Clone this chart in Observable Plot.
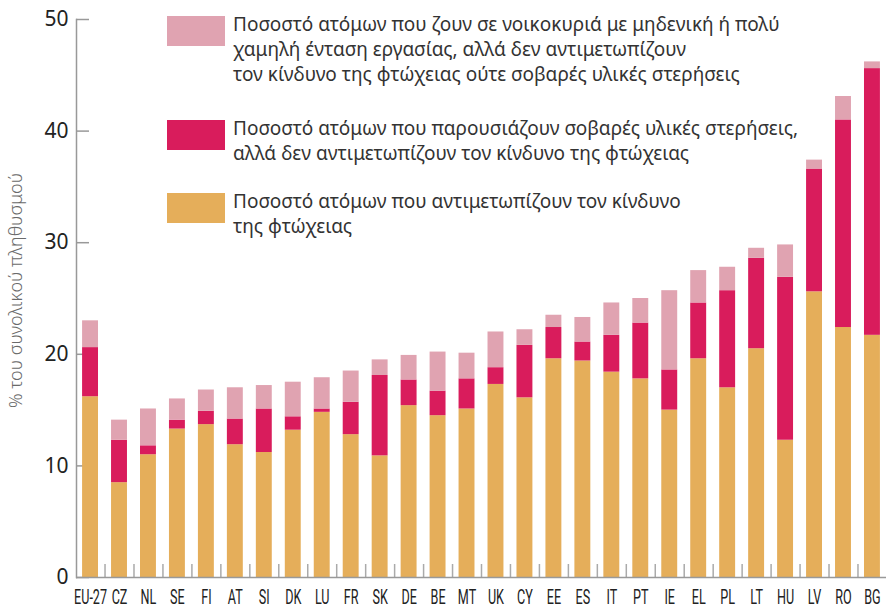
<!DOCTYPE html>
<html><head><meta charset="utf-8">
<script src="https://cdn.jsdelivr.net/npm/d3@7"></script>
<script src="https://cdn.jsdelivr.net/npm/@observablehq/plot@0.6"></script>
<style>
body{margin:0;background:#fff;}
#wrap{position:relative;width:888px;height:609px;overflow:hidden;}
.leg{position:absolute;left:167px;font-family:"Noto Sans",sans-serif;font-size:19px;color:#333;}
.sw{position:absolute;left:0;top:0;width:58px;height:30px;}
.tx{position:absolute;left:66px;top:-4px;line-height:25px;white-space:nowrap;}
</style></head>
<body><div id="wrap"></div>
<script>
const categories = ["EU-27","CZ","NL","SE","FI","AT","SI","DK","LU","FR","SK","DE","BE","MT","UK","CY","EE","ES","IT","PT","IE","EL","PL","LT","HU","LV","RO","BG"];
const poverty     = [16.2, 8.5,11.0,13.3,13.7,11.9,11.2,13.2,14.8,12.8,10.9,15.4,14.5,15.1,17.3,16.1,19.6,19.4,18.4,17.8,15.0,19.6,17.0,20.5,12.3,25.6,22.4,21.7];
const deprivation = [ 4.4, 3.8, 0.8, 0.8, 1.2, 2.3, 3.9, 1.2, 0.3, 2.9, 7.2, 2.3, 2.2, 2.7, 1.5, 4.7, 2.8, 1.7, 3.3, 5.0, 3.6, 5.0, 8.7, 8.1,14.6,11.0,18.6,23.9];
const lowWork     = [ 2.4, 1.8, 3.3, 1.9, 1.9, 2.8, 2.1, 3.1, 2.8, 2.8, 1.4, 2.2, 3.5, 2.3, 3.2, 1.4, 1.1, 2.2, 2.9, 2.2, 7.1, 2.9, 2.1, 0.9, 2.9, 0.8, 2.1, 0.6];
const seriesNames = ["Ποσοστό ατόμων που αντιμετωπίζουν τον κίνδυνο της φτώχειας",
  "Ποσοστό ατόμων που παρουσιάζουν σοβαρές υλικές στερήσεις, αλλά δεν αντιμετωπίζουν τον κίνδυνο της φτώχειας",
  "Ποσοστό ατόμων που ζουν σε νοικοκυριά με μηδενική ή πολύ χαμηλή ένταση εργασίας, αλλά δεν αντιμετωπίζουν τον κίνδυνο της φτώχειας ούτε σοβαρές υλικές στερήσεις"];
const legendLines = [
  ["Ποσοστό ατόμων που ζουν σε νοικοκυριά με μηδενική ή πολύ","χαμηλή ένταση εργασίας, αλλά δεν αντιμετωπίζουν","τον κίνδυνο της φτώχειας ούτε σοβαρές υλικές στερήσεις"],
  ["Ποσοστό ατόμων που παρουσιάζουν σοβαρές υλικές στερήσεις,","αλλά δεν αντιμετωπίζουν τον κίνδυνο της φτώχειας"],
  ["Ποσοστό ατόμων που αντιμετωπίζουν τον κίνδυνο","της φτώχειας"]
];
const colors = ["#e5ae5a","#d91c5c","#e0a3b1"];
const yTicks = [0,10,20,30,40,50];
const yLabel = "% του συνολικού πληθυσμού";

const series = [poverty, deprivation, lowWork];
const data = [];
categories.forEach((c,i) => series.forEach((s,k) => data.push({cat:c, series:seriesNames[k], value:s[i]})));

const W = 888, H = 609, mL = 76, mR = 2, mT = 19, mB = 32;
const pIn = 0.45, pOut = 0.21;
const step = (W - mL - mR) / (categories.length - pIn + 2*pOut);
const frameH = H - mT - mB, frameW = W - mL - mR;

const chart = Plot.plot({
  width: W, height: H,
  marginLeft: mL, marginRight: mR, marginTop: mT, marginBottom: mB,
  style: {background: "#fff", fontFamily: "'Noto Sans',sans-serif"},
  x: {domain: categories, paddingInner: pIn, paddingOuter: pOut, align: 0.5, round: false, label: null},
  y: {domain: [0,50], label: null},
  color: {domain: seriesNames, range: colors},
  marks: [
    Plot.ruleY(yTicks, {stroke: "#999", strokeWidth: 1.5, insetRight: frameW - 13}),
    Plot.barY(data, {x: "cat", y: "value", fill: "series", order: seriesNames}),
    Plot.ruleX(categories.slice(0,-1), {dx: step/2, insetTop: frameH - 13, stroke: "#aaa", strokeWidth: 1.5}),
    Plot.ruleY([0], {stroke: "#999", strokeWidth: 1.5}),
    Plot.frame({anchor: "left", stroke: "#999", strokeWidth: 1.5}),
    Plot.axisY({ticks: yTicks, tickSize: 0, tickPadding: 8, fontSize: 21, fill: "#222", label: null}),
    Plot.axisX({tickSize: 0, tickPadding: 12, fontSize: 20, fill: "#222", fontFamily: "Roboto,sans-serif", label: null}),
    Plot.text([yLabel], {text: d => d, frameAnchor: "left", textAnchor: "middle", dx: -60, dy: -8, rotate: -90, fontSize: 18, fill: "#6a6a6a", fontWeight: 300})
  ]
});
const wrap = document.getElementById("wrap");
wrap.appendChild(chart);

// condense x tick labels (the reference uses a condensed face)
const xt = chart.querySelectorAll('g[aria-label="x-axis tick label"] text');
xt.forEach(t => { t.style.fontSize = "20px"; });
let ref = null;
xt.forEach(t => { if (t.textContent === "EU-27") ref = t; });
if (ref) {
  const w = ref.getComputedTextLength();
  const k = Math.min(1, 33 / w);
  xt.forEach(t => { const tr = t.getAttribute("transform") || ""; t.setAttribute("transform", tr + ` scale(${k},1)`); });
}

const legTops = [16, 120, 193];
const legColors = [colors[2], colors[1], colors[0]];
legendLines.forEach((lines, i) => {
  const d = document.createElement("div");
  d.className = "leg"; d.style.top = legTops[i] + "px";
  const sw = document.createElement("div"); sw.className = "sw"; sw.style.background = legColors[i];
  const tx = document.createElement("div"); tx.className = "tx";
  lines.forEach((l, j) => { if (j) tx.appendChild(document.createElement("br")); tx.appendChild(document.createTextNode(l)); });
  d.appendChild(sw); d.appendChild(tx); wrap.appendChild(d);
});
</script></body></html>
